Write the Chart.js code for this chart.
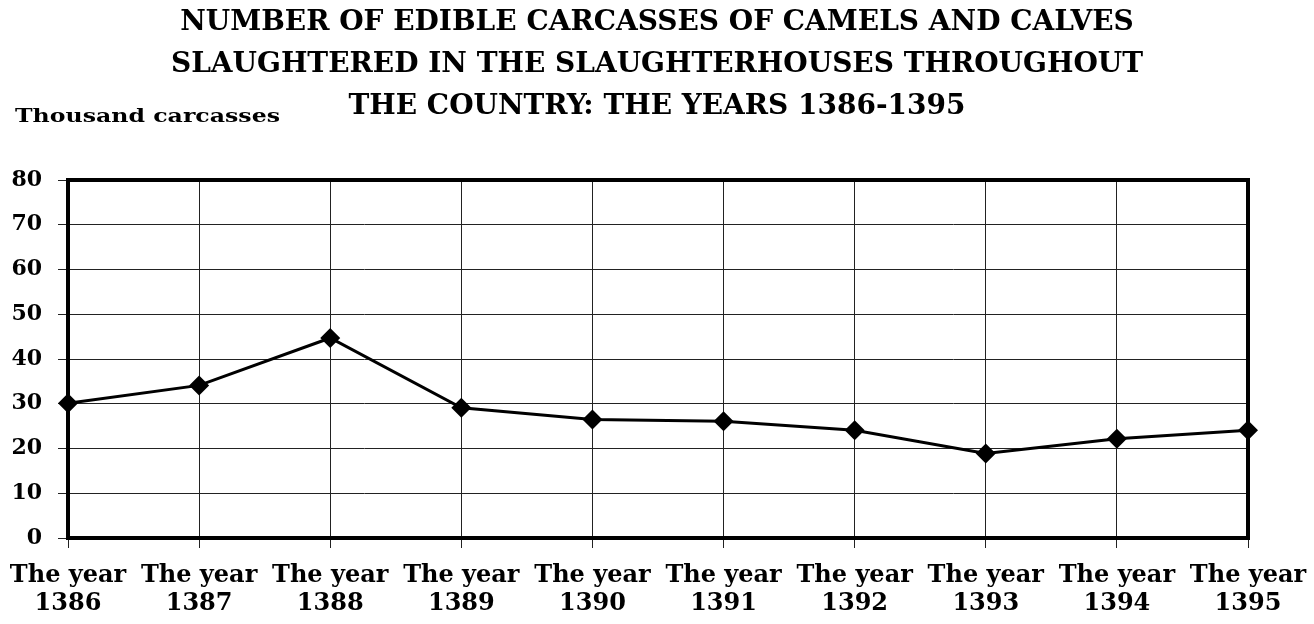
<!DOCTYPE html>
<html>
<head>
<meta charset="utf-8">
<script src="https://cdn.jsdelivr.net/npm/chart.js@4/dist/chart.umd.min.js"></script>
<style>
  html, body { margin: 0; padding: 0; background: #fff; }
  #wrap { width: 1314px; height: 624px; position: relative; }
</style>
</head>
<body>
<div id="wrap"><canvas id="chart"></canvas></div>
<script>
// data
const years = ['1386', '1387', '1388', '1389', '1390', '1391', '1392', '1393', '1394', '1395'];
const carcasses = [30.1, 34.1, 44.7, 29.1, 26.5, 26.1, 24.1, 18.9, 22.2, 24.1];
const yTicks = [0, 10, 20, 30, 40, 50, 60, 70, 80];

const titleLines = [
  'NUMBER OF EDIBLE CARCASSES OF CAMELS AND CALVES',
  'SLAUGHTERED IN THE SLAUGHTERHOUSES THROUGHOUT',
  'THE COUNTRY: THE YEARS 1386-1395'
];
const unitLabel = 'Thousand carcasses';

const FONT = "'DejaVu Serif', 'Liberation Serif', serif";

// title, unit text and the heavy frame round the plot
const frameAndTitle = {
  id: 'frameAndTitle',
  afterDraw(chart) {
    const ctx = chart.ctx;
    const a = chart.chartArea;
    ctx.save();
    ctx.strokeStyle = '#000';
    ctx.lineWidth = 4;
    ctx.strokeRect(a.left, a.top, a.right - a.left, a.bottom - a.top);

    ctx.fillStyle = '#000';
    ctx.textAlign = 'center';
    ctx.textBaseline = 'middle';
    ctx.font = 'bold 28px ' + FONT;
    titleLines.forEach((t, i) => ctx.fillText(t, 657, 23 + i * 42));

    // unit label is drawn a bit stretched, like the original
    ctx.textAlign = 'left';
    ctx.font = 'bold 19px ' + FONT;
    const w = ctx.measureText(unitLabel).width;
    ctx.translate(15, 117);
    ctx.scale(265 / w, 1);
    ctx.fillText(unitLabel, 0, 0);
    ctx.restore();
  }
};

new Chart(document.getElementById('chart'), {
  type: 'line',
  data: {
    labels: years.map(y => ['The year', y]),
    datasets: [{
      data: carcasses,
      borderColor: '#000',
      backgroundColor: '#000',
      borderWidth: 3,
      tension: 0,
      pointStyle: 'rectRot',
      pointRadius: 10,
      pointHoverRadius: 10,
      pointBackgroundColor: '#000',
      pointBorderColor: '#000',
      pointBorderWidth: 0
    }]
  },
  options: {
    responsive: true,
    maintainAspectRatio: false,
    animation: false,
    layout: { padding: { top: 180, right: 66, left: 0, bottom: 0 } },
    plugins: {
      legend: { display: false },
      tooltip: { enabled: false }
    },
    scales: {
      x: {
        offset: false,
        afterFit: s => { s.height = 86; s.paddingLeft = 0; s.paddingRight = 0; },
        grid: { color: '#222', lineWidth: 1, tickLength: 10, drawTicks: true },
        border: { color: '#000', width: 4 },
        ticks: {
          color: '#000',
          font: { family: FONT, size: 24, weight: 'bold', lineHeight: 1.2 },
          padding: 13,
          maxRotation: 0,
          autoSkip: false
        }
      },
      y: {
        min: 0,
        max: 80,
        afterFit: s => { s.width = 68; },
        afterBuildTicks: s => { s.ticks = yTicks.map(v => ({ value: v })); },
        grid: { color: '#222', lineWidth: 1, tickLength: 10, drawTicks: true },
        border: { color: '#000', width: 4 },
        ticks: {
          color: '#000',
          font: { family: FONT, size: 22, weight: 'bold' },
          padding: 16
        }
      }
    }
  },
  plugins: [frameAndTitle]
});
</script>
</body>
</html>
